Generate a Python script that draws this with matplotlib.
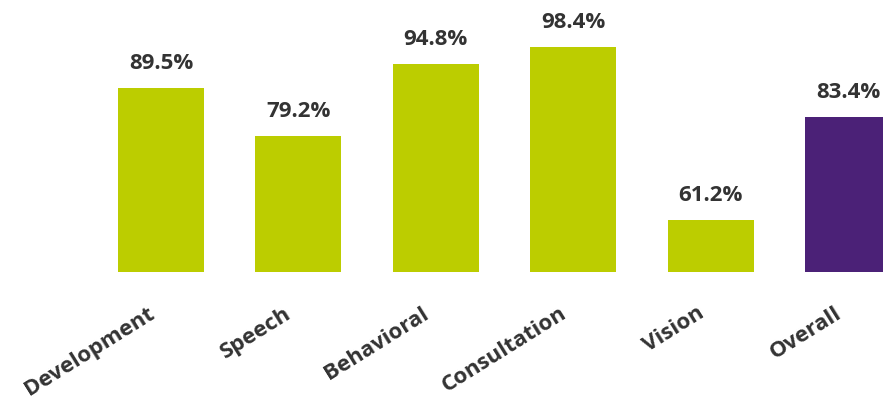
import matplotlib
matplotlib.use("Agg")
import matplotlib.pyplot as plt

categories = ["Development", "Speech", "Behavioral", "Consultation", "Vision", "Overall"]
values = [89.5, 79.2, 94.8, 98.4, 61.2, 83.4]
value_labels = ["89.5%", "79.2%", "94.8%", "98.4%", "61.2%", "83.4%"]

green = "#bccd00"
purple = "#4b2177"
text_color = "#333333"
colors = [green] * 5 + [purple]

plt.rcParams['font.family'] = ['Open Sans', 'DejaVu Sans']

fig = plt.figure(figsize=(8.83, 4.02), dpi=100)
ax = fig.add_axes([0, 129 / 402, 1, 273 / 402])

base = 50
x = list(range(len(categories)))
ax.bar(x, [v - base for v in values], bottom=base, width=0.626, color=colors)

# value labels above bars
for xi, v, lab in zip(x, values, value_labels):
    ax.annotate(lab, (xi, v), xytext=(0, 15), textcoords="offset pixels",
                ha="center", va="bottom", fontsize=16, fontweight="bold",
                color=text_color)

# slanted category names under the bars
for xi, name in zip(x, categories):
    ax.annotate(name, (xi, base), xytext=(-14, -30), textcoords="offset pixels",
                ha="right", va="top", rotation=32, rotation_mode="anchor",
                fontsize=16, fontweight="bold", color=text_color,
                annotation_clip=False)

ax.set_xlim(-1.172, 5.255)
ax.set_ylim(base, 108.66)
ax.set_xticks([])
ax.set_yticks([])
for s in ax.spines.values():
    s.set_visible(False)

fig.savefig("out.png", dpi=100)
